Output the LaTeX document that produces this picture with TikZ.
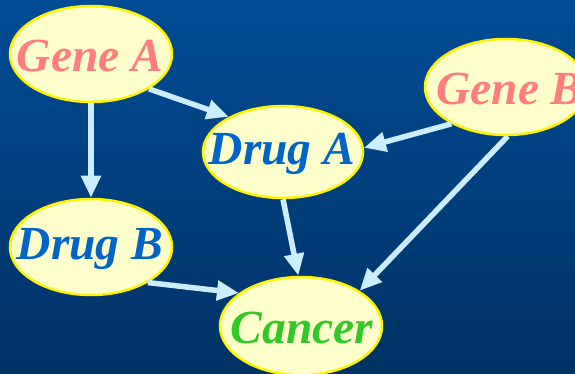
\documentclass[tikz,border=0pt]{standalone}
\usepackage{fontspec}
\setmainfont{Liberation Serif}
\usetikzlibrary{shapes.geometric,arrows.meta}
\definecolor{bgtop}{RGB}{0,76,150}
\definecolor{bgbot}{RGB}{0,50,100}
\definecolor{nodefill}{RGB}{255,255,204}
\definecolor{genecol}{RGB}{255,125,125}
\definecolor{drugcol}{RGB}{0,100,200}
\definecolor{cancercol}{RGB}{50,200,40}
\definecolor{arrcol}{RGB}{204,236,255}
\tikzset{
  bubble/.style={ellipse, draw=yellow, line width=2.5pt, fill=nodefill, minimum width=162pt, minimum height=96pt, inner sep=0pt},
  lbl/.style={font=\fontsize{47.5}{50}\selectfont\bfseries\itshape, inner sep=0pt},
  arr/.style={draw=arrcol, line width=5.5pt, -{Triangle[length=22pt,width=19pt]}}
}
\begin{document}
\begin{tikzpicture}[x=1pt,y=-1pt]
\useasboundingbox (0,0) rectangle (575,374);
\clip (0,0) rectangle (575,374);
\shade[top color=bgtop, bottom color=bgbot] (0,0) rectangle (575,374);
\node[bubble] (ga) at (91,54) {};
\node[bubble] (gb) at (506,87) {};
\node[bubble, minimum width=160pt, minimum height=92pt] (da) at (283,152) {};
\node[bubble] (db) at (91,247) {};
\node[bubble, minimum height=98pt] (ca) at (301,326) {};
\node[lbl, text=genecol] (gat) at (90,56) {Gene A};
\node[lbl, text=genecol, anchor=west] (gbt) at (436,89) {Gene B};
\node[lbl, text=drugcol] (dat) at (282,154) {Drug A};
\node[lbl, text=drugcol] (dbt) at (90,249) {Drug B};
\node[lbl, text=cancercol] (cat) at (302,328) {Cancer};
\draw[arr] (ga.-90) -- (db.90);
\draw[arr] (ga.-31) -- (da.147);
\draw[arr] (gb.214) -- (da.3);
\draw[arr] (gb.-88) -- (ca.31);
\draw[arr] (da.-90) -- (ca.93);
\draw[arr] (db.-32) -- (ca.152);
\end{tikzpicture}
\end{document}
